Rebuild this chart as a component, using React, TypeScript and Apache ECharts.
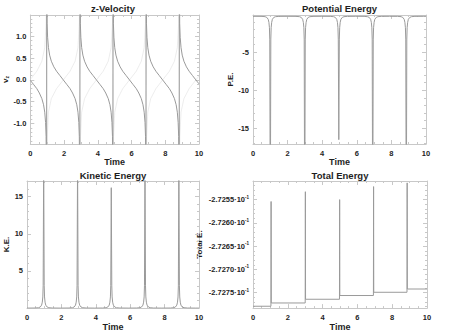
import React, { useEffect, useRef } from "react";
import * as echarts from "echarts";

const TIME_MIN = 0;
const TIME_MAX = 10;
const TIME_INTERVAL = 2;

const TITLES = ["z-Velocity", "Potential Energy", "Kinetic Energy", "Total Energy"];
const Y_NAMES = ["v{s|z}", "P.E.", "K.E.", "Total E."];
const Y_RANGES: [number, number][] = [
  [-1.47, 1.49],
  [-17.07, -0.1],
  [0, 17.1],
  [-0.272783, -0.27251],
];
const Y_SPLITS = [5, 4, 4, 5];

const VELOCITY: [number, number][] = [
  [0, -0.01], [0.185, -0.1], [0.385, -0.2], [0.535, -0.3], [0.685, -0.43], [0.785, -0.57], [0.855, -0.74], [0.905, -0.98], [0.935, -1.3], [0.965, -3.0],
  [0.975, 3.0], [0.995, 1.3], [1.025, 0.98], [1.075, 0.74], [1.145, 0.57], [1.245, 0.43], [1.395, 0.3], [1.555, 0.2], [1.755, 0.1], [1.955, 0], [2.155, -0.1], [2.355, -0.2], [2.505, -0.3], [2.655, -0.43], [2.755, -0.57], [2.825, -0.74], [2.875, -0.98], [2.905, -1.3], [2.935, -3.0],
  [2.945, 3.0], [2.965, 1.3], [2.995, 0.98], [3.045, 0.74], [3.115, 0.57], [3.215, 0.43], [3.365, 0.3], [3.52, 0.2], [3.72, 0.1], [3.92, 0], [4.12, -0.1], [4.32, -0.2], [4.47, -0.3], [4.62, -0.43], [4.72, -0.57], [4.79, -0.74], [4.84, -0.98], [4.87, -1.3], [4.895, -3.0],
  [4.905, 3.0], [4.925, 1.3], [4.955, 0.98], [5.005, 0.74], [5.075, 0.57], [5.175, 0.43], [5.325, 0.3], [5.48, 0.2], [5.68, 0.1], [5.88, 0], [6.08, -0.1], [6.28, -0.2], [6.43, -0.3], [6.58, -0.43], [6.68, -0.57], [6.75, -0.74], [6.8, -0.98], [6.83, -1.3], [6.855, -3.0],
  [6.865, 3.0], [6.885, 1.3], [6.915, 0.98], [6.965, 0.74], [7.035, 0.57], [7.135, 0.43], [7.285, 0.3], [7.445, 0.2], [7.645, 0.1], [7.845, 0], [8.045, -0.1], [8.245, -0.2], [8.395, -0.3], [8.545, -0.43], [8.645, -0.57], [8.715, -0.74], [8.765, -0.98], [8.795, -1.3], [8.825, -3.0],
  [8.835, 3.0], [8.855, 1.3], [8.885, 0.98], [8.935, 0.74], [9.005, 0.57], [9.105, 0.43], [9.255, 0.3], [9.415, 0.2], [9.615, 0.1], [9.815, 0], [10, -0.09],
];

const VELOCITY_FAINT: [number, number][] = [
  [0, 0.01], [0.385, 0.2], [0.685, 0.43], [0.855, 0.74], [0.935, 1.3], [0.965, 3],
  [0.975, -3], [1.005, -1.3], [1.075, -0.74], [1.245, -0.43], [1.555, -0.2], [1.955, 0], [2.355, 0.2], [2.655, 0.43], [2.825, 0.74], [2.905, 1.3], [2.935, 3],
  [2.945, -3], [2.975, -1.3], [3.045, -0.74], [3.215, -0.43], [3.52, -0.2], [3.92, 0], [4.32, 0.2], [4.62, 0.43], [4.79, 0.74], [4.87, 1.3], [4.895, 3],
  [4.905, -3], [4.935, -1.3], [5.005, -0.74], [5.175, -0.43], [5.48, -0.2], [5.88, 0], [6.28, 0.2], [6.58, 0.43], [6.75, 0.74], [6.83, 1.3], [6.855, 3],
  [6.865, -3], [6.895, -1.3], [6.965, -0.74], [7.135, -0.43], [7.445, -0.2], [7.845, 0], [8.245, 0.2], [8.545, 0.43], [8.715, 0.74], [8.795, 1.3], [8.825, 3],
  [8.835, -3], [8.865, -1.3], [8.935, -0.74], [9.105, -0.43], [9.415, -0.2], [9.815, 0], [10, 0.09],
];

const POTENTIAL: [number, number][] = [
  [0, -0.273], [0.5, -0.28], [0.7, -0.32], [0.8, -0.42], [0.88, -0.67], [0.92, -1.07], [0.95, -1.77], [0.97, -3.27], [1.0, -30], [1.03, -3.27], [1.05, -1.77], [1.08, -1.07], [1.12, -0.67], [1.2, -0.42], [1.3, -0.32], [1.5, -0.28], [1.995, -0.273],
  [2.49, -0.28], [2.69, -0.32], [2.79, -0.42], [2.87, -0.67], [2.91, -1.07], [2.94, -1.77], [2.96, -3.27], [2.99, -30], [3.02, -3.27], [3.04, -1.77], [3.07, -1.07], [3.11, -0.67], [3.19, -0.42], [3.29, -0.32], [3.49, -0.28], [3.975, -0.273],
  [4.46, -0.28], [4.66, -0.32], [4.76, -0.42], [4.84, -0.67], [4.88, -1.07], [4.91, -1.77], [4.93, -3.27], [4.96, -16.5], [4.99, -3.27], [5.01, -1.77], [5.04, -1.07], [5.08, -0.67], [5.16, -0.42], [5.26, -0.32], [5.46, -0.28], [5.94, -0.273],
  [6.42, -0.28], [6.62, -0.32], [6.72, -0.42], [6.8, -0.67], [6.84, -1.07], [6.87, -1.77], [6.89, -3.27], [6.92, -30], [6.95, -3.27], [6.97, -1.77], [7.0, -1.07], [7.04, -0.67], [7.12, -0.42], [7.22, -0.32], [7.42, -0.28], [7.89, -0.273],
  [8.36, -0.28], [8.56, -0.32], [8.66, -0.42], [8.74, -0.67], [8.78, -1.07], [8.81, -1.77], [8.83, -3.27], [8.86, -30], [8.89, -3.27], [8.91, -1.77], [8.94, -1.07], [8.98, -0.67], [9.06, -0.42], [9.16, -0.32], [9.36, -0.28], [9.84, -0.273], [10, -0.274],
];

const KINETIC: [number, number][] = [
  [0, 0], [0.47, 0.01], [0.67, 0.05], [0.77, 0.15], [0.85, 0.4], [0.89, 0.8], [0.92, 1.5], [0.94, 3], [0.97, 20], [1.0, 3], [1.02, 1.5], [1.05, 0.8], [1.09, 0.4], [1.17, 0.15], [1.27, 0.05], [1.47, 0.01], [1.955, 0],
  [2.44, 0.01], [2.64, 0.05], [2.74, 0.15], [2.82, 0.4], [2.86, 0.8], [2.89, 1.5], [2.91, 3], [2.94, 20], [2.97, 3], [2.99, 1.5], [3.02, 0.8], [3.06, 0.4], [3.14, 0.15], [3.24, 0.05], [3.44, 0.01], [3.92, 0],
  [4.4, 0.01], [4.6, 0.05], [4.7, 0.15], [4.78, 0.4], [4.82, 0.8], [4.85, 1.5], [4.87, 3], [4.9, 16.2], [4.93, 3], [4.95, 1.5], [4.98, 0.8], [5.02, 0.4], [5.1, 0.15], [5.2, 0.05], [5.4, 0.01], [5.88, 0],
  [6.36, 0.01], [6.56, 0.05], [6.66, 0.15], [6.74, 0.4], [6.78, 0.8], [6.81, 1.5], [6.83, 3], [6.86, 20], [6.89, 3], [6.91, 1.5], [6.94, 0.8], [6.98, 0.4], [7.06, 0.15], [7.16, 0.05], [7.36, 0.01], [7.845, 0],
  [8.33, 0.01], [8.53, 0.05], [8.63, 0.15], [8.71, 0.4], [8.75, 0.8], [8.78, 1.5], [8.8, 3], [8.83, 20], [8.86, 3], [8.88, 1.5], [8.91, 0.8], [8.95, 0.4], [9.03, 0.15], [9.13, 0.05], [9.33, 0.01], [9.815, 0], [10, 0],
];

const TOTAL: [number, number][] = [
  [0, -0.272779], [1.03, -0.272779], [1.04, -0.272554], [1.05, -0.272772],
  [3.0, -0.272772], [3.01, -0.272533], [3.02, -0.272764],
  [4.97, -0.272764], [4.98, -0.27255], [4.99, -0.272756],
  [6.92, -0.272756], [6.93, -0.272522], [6.94, -0.272749],
  [8.85, -0.272749], [8.86, -0.272514], [8.87, -0.272742],
  [10, -0.272742],
];

const GRIDS = [
  { left: 27, top: 15, width: 172, height: 129 },
  { left: 253, top: 15, width: 173, height: 129 },
  { left: 27, top: 181, width: 172, height: 131 },
  { left: 253, top: 181, width: 174, height: 131 },
];

const FONT = "'Liberation Sans', Arial, Helvetica, sans-serif";
const TEXT = "#1e1e1e";
const FRAME = "#c8c8c8";
const LINE = "#9a9a9a";

const Y_FORMATTERS = [
  (v: number) => v.toFixed(1),
  (v: number) => String(Math.round(v)),
  (v: number) => String(Math.round(v)),
  (v: number) => `{a|${(v * 10).toFixed(4)}·10}{b|-1}`,
];
const Y_NAME_GAPS = [19, 17, 16, 50];
const X_NAME_GAPS = [12, 12, 13, 13];

export default function App() {
  const ref = useRef<HTMLDivElement>(null);
  useEffect(() => {
    if (!ref.current) return;
    const chart = echarts.init(ref.current, undefined, { renderer: "svg" });
    const xAxis: any[] = [];
    const yAxis: any[] = [];
    const tickCommon = {
      axisLine: { show: true, onZero: false, lineStyle: { color: FRAME, width: 1 } },
      axisTick: { show: true, inside: true, length: 4, lineStyle: { color: FRAME } },
      minorTick: { show: true, length: 2, lineStyle: { color: FRAME } },
      splitLine: { show: false },
    };
    GRIDS.forEach((g, i) => {
      xAxis.push({
        type: "value", gridIndex: i, min: TIME_MIN, max: TIME_MAX, interval: TIME_INTERVAL,
        position: "bottom",
        name: "Time", nameLocation: "middle", nameGap: X_NAME_GAPS[i],
        nameTextStyle: { fontFamily: FONT, fontWeight: "bold", fontSize: 9, color: TEXT },
        ...tickCommon,
        minorTick: { ...tickCommon.minorTick, splitNumber: 4 },
        axisLabel: { margin: 5, fontFamily: FONT, fontWeight: "bold", fontSize: 7.5, color: TEXT },
      });
      xAxis.push({
        type: "value", gridIndex: i, min: TIME_MIN, max: TIME_MAX, interval: TIME_INTERVAL,
        position: "top",
        ...tickCommon,
        minorTick: { ...tickCommon.minorTick, splitNumber: 4 },
        axisLabel: { show: false },
      });
      const [ymin, ymax] = Y_RANGES[i];
      yAxis.push({
        type: "value", gridIndex: i, min: ymin, max: ymax, splitNumber: Y_SPLITS[i], scale: true,
        position: "left",
        name: Y_NAMES[i], nameLocation: "middle", nameGap: Y_NAME_GAPS[i], nameRotate: 90,
        nameTextStyle: {
          fontFamily: FONT, fontWeight: "bold", fontSize: 8, color: TEXT,
          rich: { s: { fontFamily: FONT, fontWeight: "bold", fontSize: 5, color: TEXT, padding: [4, 0, 0, 0] } },
        },
        ...tickCommon,
        minorTick: { ...tickCommon.minorTick, splitNumber: 5 },
        axisLabel: {
          margin: 4, fontFamily: FONT, fontWeight: "bold", fontSize: 7.5, color: TEXT,
          showMinLabel: false, showMaxLabel: false,
          formatter: Y_FORMATTERS[i],
          rich: {
            a: { fontFamily: FONT, fontWeight: "bold", fontSize: 7.5, color: TEXT },
            b: { fontFamily: FONT, fontWeight: "bold", fontSize: 4.5, color: TEXT, padding: [0, 0, 5, 0] },
          },
        },
      });
      yAxis.push({
        type: "value", gridIndex: i, min: ymin, max: ymax, splitNumber: Y_SPLITS[i], scale: true,
        position: "right",
        ...tickCommon,
        minorTick: { ...tickCommon.minorTick, splitNumber: 5 },
        axisLabel: { show: false },
      });
    });
    const lineSeries = (data: [number, number][], i: number, color: string, width: number) => ({
      type: "line", data, xAxisIndex: i * 2, yAxisIndex: i * 2, showSymbol: false, symbol: "none",
      clip: true, lineStyle: { color, width }, silent: true,
    });
    chart.setOption({
      animation: false,
      backgroundColor: "#ffffff",
      grid: GRIDS.map((g) => ({ ...g, containLabel: false })),
      xAxis,
      yAxis,
      graphic: GRIDS.map((g, i) => ({
        type: "text",
        x: g.left + g.width / 2,
        y: i < 2 ? 3 : 170,
        style: {
          text: TITLES[i], fontFamily: FONT, fontWeight: "bold", fontSize: 9.5, fill: TEXT,
          textAlign: "center", textVerticalAlign: "top",
        },
      })),
      series: [
        lineSeries(VELOCITY_FAINT, 0, "#e0e0e0", 0.6),
        lineSeries(VELOCITY, 0, LINE, 1),
        lineSeries(POTENTIAL, 1, LINE, 1),
        lineSeries(KINETIC, 2, LINE, 1),
        lineSeries(TOTAL, 3, LINE, 1),
      ],
    });
    return () => chart.dispose();
  }, []);
  return (
    <div
      ref={ref}
      style={{ position: "fixed", left: 0, top: 0, width: 452, height: 332, background: "#fff" }}
    />
  );
}
